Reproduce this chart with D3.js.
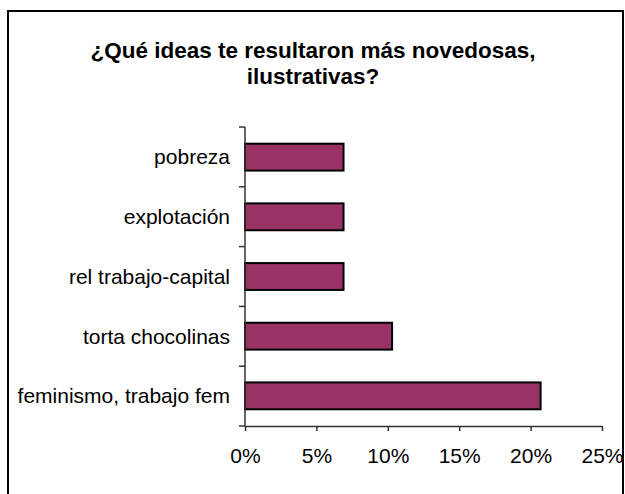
<!DOCTYPE html>
<html>
<head>
<meta charset="utf-8">
<script src="https://cdn.jsdelivr.net/npm/d3@7"></script>
<style>
  body { margin: 0; background: #fff; }
  svg { display: block; }
</style>
</head>
<body>
<script>
// datos del gráfico
const categorias = ["pobreza", "explotación", "rel trabajo-capital", "torta chocolinas", "feminismo, trabajo fem"];
const valores = [6.9, 6.9, 6.9, 10.3, 20.7];
const ticksX = [0, 5, 10, 15, 20, 25];
const titulo = ["¿Qué ideas te resultaron más novedosas,", "ilustrativas?"];

const w = 625;
const h = 494;
const fuente = "Liberation Sans, Arial, sans-serif";

var svg = d3.select("body")
    .append("svg")
    .attr("width", w)
    .attr("height", h);

// marco
svg.append("rect")
    .attr("x", 8)
    .attr("y", 11)
    .attr("width", 615)
    .attr("height", 500)
    .attr("fill", "white")
    .attr("stroke", "black")
    .attr("stroke-width", 2);

// título
svg.append("g").selectAll("text")
    .data(titulo)
    .enter()
    .append("text")
    .text(d => d)
    .attr("x", 313)
    .attr("y", (d, i) => 58 + i * 26)
    .attr("text-anchor", "middle")
    .attr("font-family", fuente)
    .attr("font-weight", "bold")
    .attr("font-size", "22.5px");

const x = d3.scaleLinear()
    .domain([0, 25])
    .range([245, 602]);

const y = d3.scaleBand()
    .domain(categorias)
    .range([127, 426])
    .paddingInner(0.55)
    .paddingOuter(0.28);

// barras
svg.selectAll("rect.bar")
    .data(valores)
    .enter()
    .append("rect")
    .attr("class", "bar")
    .attr("x", x(0))
    .attr("y", (d, i) => y(categorias[i]))
    .attr("width", d => x(d) - x(0))
    .attr("height", y.bandwidth())
    .attr("fill", "#993366")
    .attr("stroke", "black")
    .attr("stroke-width", 2);

// eje X
var ejeX = svg.append("g")
    .attr("transform", "translate(0,426)")
    .call(d3.axisBottom(x)
        .tickValues(ticksX)
        .tickFormat(d => d + "%")
        .tickSize(5)
        .tickSizeOuter(0));
ejeX.select(".domain").attr("stroke", "#333").attr("stroke-width", 1.5);
ejeX.selectAll(".tick line").attr("stroke", "#333").attr("stroke-width", 1.5);
ejeX.selectAll("text")
    .attr("font-family", fuente)
    .attr("font-size", "21px")
    .attr("fill", "black")
    .attr("y", 37)
    .attr("dy", 0);

// eje Y: marcas entre categorías
var ejeY = svg.append("g").attr("transform", "translate(245,0)");
ejeY.append("line")
    .attr("y1", 127).attr("y2", 426)
    .attr("stroke", "#333").attr("stroke-width", 1.5);
var bordes = d3.range(categorias.length + 1).map(i => 127 + i * (299 / categorias.length));
ejeY.selectAll("line.tk")
    .data(bordes)
    .enter()
    .append("line")
    .attr("class", "tk")
    .attr("x1", -6).attr("x2", 0)
    .attr("y1", d => d).attr("y2", d => d)
    .attr("stroke", "#333").attr("stroke-width", 1.5);

ejeY.selectAll("text")
    .data(categorias)
    .enter()
    .append("text")
    .text(d => d)
    .attr("x", -15)
    .attr("y", d => y(d) + y.bandwidth() / 2)
    .attr("dy", "0.35em")
    .attr("text-anchor", "end")
    .attr("font-family", fuente)
    .attr("font-size", "21px");
</script>
</body>
</html>
